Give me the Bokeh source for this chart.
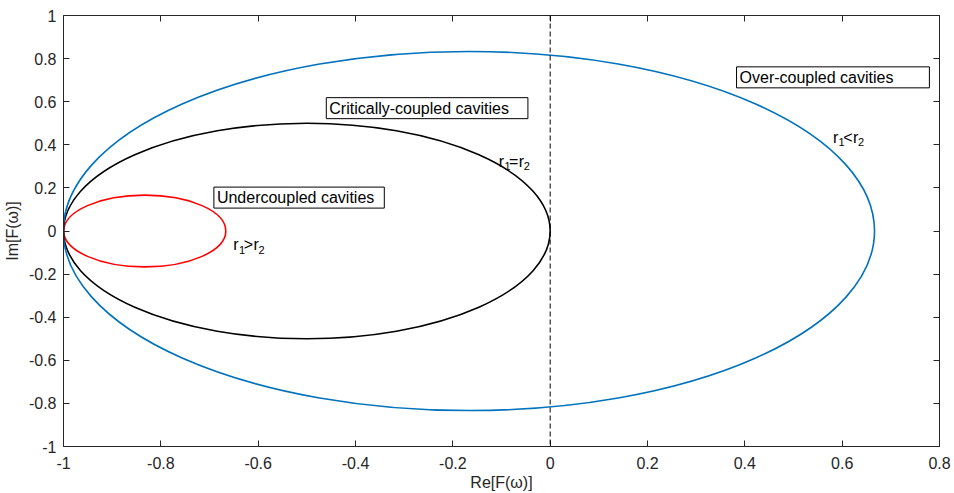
from bokeh.plotting import figure
from bokeh.models import Range1d, LinearAxis, FixedTicker, Label, Span
from bokeh.embed import file_html
from bokeh.resources import INLINE

# ---- data ----
case_names = ["Undercoupled", "Critically-coupled", "Over-coupled"]
loop_center_re = [-0.833, -0.5, -0.167]
loop_center_im = [0.0, 0.0, 0.0]
loop_diameter_re = [0.333, 1.0, 1.667]
loop_diameter_im = [0.333, 1.0, 1.667]

x_ticks = [-1.0, -0.8, -0.6, -0.4, -0.2, 0.0, 0.2, 0.4, 0.6, 0.8]
x_tick_labels = ["-1", "-0.8", "-0.6", "-0.4", "-0.2", "0", "0.2", "0.4", "0.6", "0.8"]
y_ticks = [-1.0, -0.8, -0.6, -0.4, -0.2, 0.0, 0.2, 0.4, 0.6, 0.8, 1.0]
y_tick_labels = ["-1", "-0.8", "-0.6", "-0.4", "-0.2", "0", "0.2", "0.4", "0.6", "0.8", "1"]

box_texts = ["Undercoupled cavities", "Critically-coupled cavities", "Over-coupled cavities"]
cond_texts = [("r", "1", ">", "r", "2"), ("r", "1", "=", "r", "2"), ("r", "1", "<", "r", "2")]

# ---- styles / positions ----
loop_colors = ["#FF0000", "#000000", "#0072BD"]
FONT = "Liberation Sans"
TXT = "#262626"
FS = "16px"

p = figure(frame_width=876, frame_height=431,
           x_range=Range1d(-1, 0.8), y_range=Range1d(-1, 1),
           output_backend="svg", toolbar_location=None,
           min_border_left=55, min_border_right=15,
           min_border_top=15, min_border_bottom=40,
           x_axis_label="Re[F(ω)]", y_axis_label="Im[F(ω)]")
p.grid.visible = False
p.outline_line_color = None
p.background_fill_color = "white"

for ax in (p.xaxis[0], p.yaxis[0]):
    ax.major_tick_in = 6
    ax.major_tick_out = 0
    ax.minor_tick_in = 0
    ax.minor_tick_out = 0
    ax.axis_line_color = TXT
    ax.major_tick_line_color = TXT
    ax.major_label_text_font = FONT
    ax.major_label_text_font_size = FS
    ax.major_label_text_color = TXT
    ax.axis_label_text_font = FONT
    ax.axis_label_text_font_size = FS
    ax.axis_label_text_font_style = "normal"
    ax.axis_label_text_color = TXT

p.xaxis[0].ticker = FixedTicker(ticks=x_ticks)
p.xaxis[0].major_label_overrides = {t: l for t, l in zip(x_ticks, x_tick_labels)}
p.yaxis[0].ticker = FixedTicker(ticks=y_ticks)
p.yaxis[0].major_label_overrides = {t: l for t, l in zip(y_ticks, y_tick_labels)}
p.xaxis[0].major_label_standoff = 10
p.xaxis[0].axis_label_standoff = 2
p.yaxis[0].major_label_standoff = 7
p.yaxis[0].axis_label_standoff = 5

for loc, ticks in (("above", x_ticks), ("right", y_ticks)):
    ax = LinearAxis(ticker=FixedTicker(ticks=ticks))
    ax.major_tick_in = 6
    ax.major_tick_out = 0
    ax.minor_tick_in = 0
    ax.minor_tick_out = 0
    ax.axis_line_color = TXT
    ax.major_tick_line_color = TXT
    ax.major_label_overrides = {t: "" for t in ticks}
    ax.major_label_text_font_size = "1px"
    ax.major_label_standoff = 0
    p.add_layout(ax, loc)

p.add_layout(Span(location=0, dimension="height", line_color="black",
                  line_dash="5 3", line_width=1))

p.ellipse(x=loop_center_re, y=loop_center_im,
          width=loop_diameter_re, height=loop_diameter_im,
          fill_color=None, line_color=loop_colors, line_width=1.6)

box_pos = [(-0.691, 0.155), (-0.46, 0.57), (0.383, 0.713)]
box_right_pad = [10, 19, 36]
for t, (bx, by), rp in zip(box_texts, box_pos, box_right_pad):
    p.add_layout(Label(x=bx, y=by, text=t, text_font=FONT, text_font_size=FS,
                       text_color="black", text_align="left", text_baseline="middle",
                       border_line_color="black", border_line_width=1,
                       background_fill_color="white",
                       padding=dict(left=3, right=rp, top=2, bottom=2)))

cond_pos = [(-0.651, -0.064), (-0.1056, 0.324), (0.581, 0.435)]
sizes = [16, 11, 16, 16, 11]
dys = [0, -5, 0, 0, -5]
widths = [5.7, 4.6, 9.8, 5.0, 6.5]
for parts, (cx, cy) in zip(cond_texts, cond_pos):
    off = 0.0
    for part, s, dy, w in zip(parts, sizes, dys, widths):
        p.add_layout(Label(x=cx, y=cy, x_offset=off, y_offset=dy, text=part,
                           text_font=FONT, text_font_size=f"{s}px", text_color="black",
                           text_align="left", text_baseline="alphabetic"))
        off += w

open("out.html", "w").write(file_html(p, INLINE))
